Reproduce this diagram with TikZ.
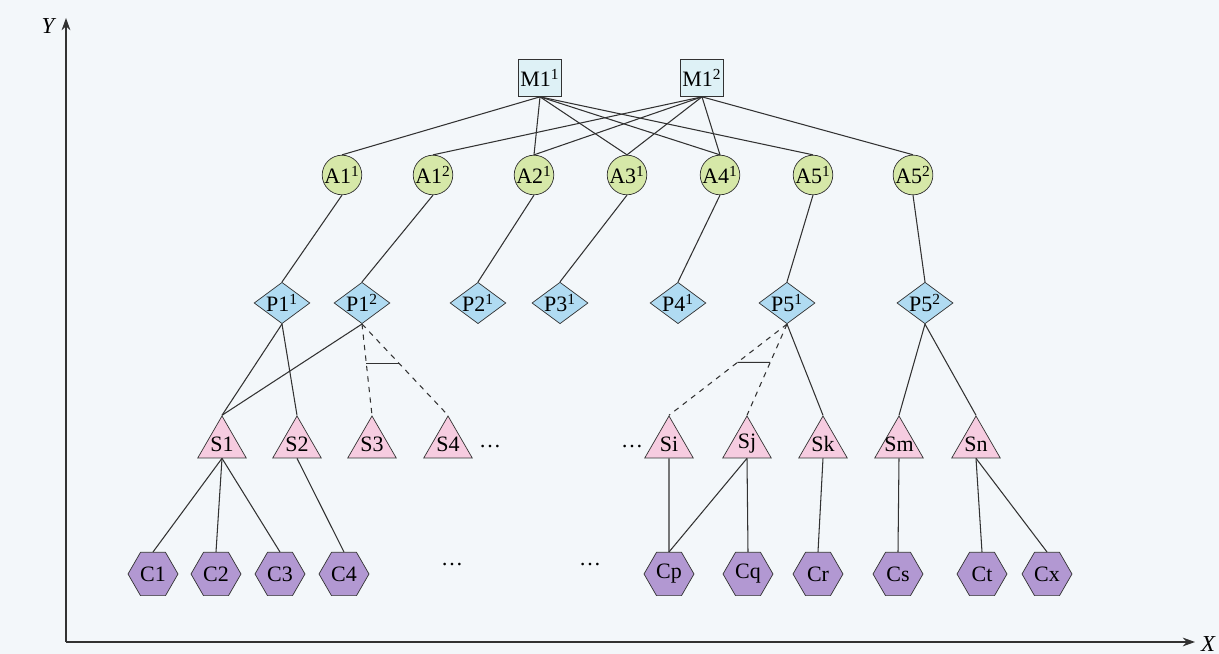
\documentclass[tikz,border=0pt]{standalone}
\usepackage{fontspec}
\setmainfont{Liberation Serif}
\usetikzlibrary{shapes.geometric, arrows.meta, positioning, calc}

\definecolor{bgpale}{RGB}{243,247,250}
\definecolor{mfill}{RGB}{222,241,246}
\definecolor{afill}{RGB}{214,232,168}
\definecolor{pfill}{RGB}{176,219,242}
\definecolor{sfill}{RGB}{246,204,224}
\definecolor{cfill}{RGB}{178,152,210}
\definecolor{edgegray}{RGB}{50,50,50}

\tikzset{
    mnode/.style={
        rectangle,
        draw=edgegray,
        fill=mfill,
        minimum width=0.74cm,
        minimum height=0.74cm,
        inner sep=1pt,
        font=\fontsize{12.5}{14}\selectfont
    },
    anode/.style={
        circle,
        draw=edgegray,
        fill=afill,
        minimum size=0.78cm,
        inner sep=0pt,
        font=\fontsize{12.5}{14}\selectfont
    },
    pnode/.style={
        diamond,
        draw=edgegray,
        fill=pfill,
        aspect=1.35,
        minimum width=0.98cm,
        minimum height=0.74cm,
        inner sep=0pt,
        font=\fontsize{12.5}{14}\selectfont
    },
    % text box of zero width, so every triangle keeps the same size
    snode/.style={
        regular polygon,
        regular polygon sides=3,
        draw=edgegray,
        fill=sfill,
        minimum size=1.12cm,
        inner sep=0pt,
        font=\fontsize{12.5}{14}\selectfont,
        execute at begin node={\hbox to 0pt\bgroup\hss},
        execute at end node={\hss\egroup}
    },
    cnode/.style={
        regular polygon,
        regular polygon sides=6,
        draw=edgegray,
        fill=cfill,
        minimum size=1.0cm,
        inner sep=0pt,
        font=\fontsize{12.5}{14}\selectfont
    },
    link/.style={
        draw=edgegray,
        line width=0.6pt
    },
    optlink/.style={
        draw=edgegray,
        line width=0.6pt,
        dashed
    },
    axis/.style={
        draw=edgegray,
        line width=0.7pt,
        -{Stealth[length=7pt,width=5pt]}
    },
    dots/.style={
        font=\fontsize{12.5}{14}\selectfont
    }
}

\begin{document}
\begin{tikzpicture}

    % Background
    \fill[bgpale] (0,0) rectangle (24.38,13.08);
    \useasboundingbox (0,0) rectangle (24.38,13.08);

    % Axes
    \coordinate (origin) at (1.32,0.24);
    \coordinate (ytop) at (1.32,12.72);
    \coordinate (xend) at (23.90,0.24);
    \draw[axis] (origin) -- (ytop);
    \draw[axis] (origin) -- (xend);
    \node[font=\fontsize{13}{15}\selectfont\itshape] (ylabel) at (0.96,12.56) {Y};
    \node[font=\fontsize{13}{15}\selectfont\itshape] (xlabel) at (24.16,0.20) {X};

    % Top level
    \node[mnode] (m11) at (10.80,11.52) {M1\textsuperscript{1}};
    \node[mnode] (m12) at (14.04,11.52) {M1\textsuperscript{2}};

    % A level
    \node[anode] (a11) at (6.84,9.58) {A1\textsuperscript{1}};
    \node[anode] (a12) at (8.66,9.58) {A1\textsuperscript{2}};
    \node[anode] (a21) at (10.68,9.58) {A2\textsuperscript{1}};
    \node[anode] (a31) at (12.54,9.58) {A3\textsuperscript{1}};
    \node[anode] (a41) at (14.40,9.58) {A4\textsuperscript{1}};
    \node[anode] (a51) at (16.26,9.58) {A5\textsuperscript{1}};
    \node[anode] (a52) at (18.26,9.58) {A5\textsuperscript{2}};

    % P level
    \node[pnode] (p11) at (5.64,7.02) {P1\textsuperscript{1}};
    \node[pnode] (p12) at (7.24,7.02) {P1\textsuperscript{2}};
    \node[pnode] (p21) at (9.56,7.02) {P2\textsuperscript{1}};
    \node[pnode] (p31) at (11.20,7.02) {P3\textsuperscript{1}};
    \node[pnode] (p41) at (13.56,7.02) {P4\textsuperscript{1}};
    \node[pnode] (p51) at (15.74,7.02) {P5\textsuperscript{1}};
    \node[pnode] (p52) at (18.50,7.02) {P5\textsuperscript{2}};

    % S level
    \node[snode] (s1) at (4.44,4.20) {S1};
    \node[snode] (s2) at (5.94,4.20) {S2};
    \node[snode] (s3) at (7.44,4.20) {S3};
    \node[snode] (s4) at (8.96,4.20) {S4};
    \node[dots] (sdots1) at (9.80,4.14) {\dots};
    \node[dots] (sdots2) at (12.64,4.14) {\dots};
    \node[snode] (si) at (13.38,4.20) {Si};
    \node[snode] (sj) at (14.94,4.20) {Sj};
    \node[snode] (sk) at (16.46,4.20) {Sk};
    \node[snode] (sm) at (17.98,4.20) {Sm};
    \node[snode] (sn) at (19.52,4.20) {Sn};

    % C level
    \node[cnode] (c1) at (3.06,1.60) {C1};
    \node[cnode] (c2) at (4.32,1.60) {C2};
    \node[cnode] (c3) at (5.60,1.60) {C3};
    \node[cnode] (c4) at (6.88,1.60) {C4};
    \node[dots] (cdots1) at (9.04,1.78) {\dots};
    \node[dots] (cdots2) at (11.80,1.78) {\dots};
    \node[cnode] (cp) at (13.38,1.60) {Cp};
    \node[cnode] (cq) at (14.96,1.60) {Cq};
    \node[cnode] (cr) at (16.36,1.60) {Cr};
    \node[cnode] (cs) at (17.96,1.60) {Cs};
    \node[cnode] (ct) at (19.64,1.60) {Ct};
    \node[cnode] (cx) at (20.94,1.60) {Cx};

    % M to A
    \foreach \a in {a11,a21,a31,a41,a51}
        \draw[link] (m11.south) -- (\a.north);
    \foreach \a in {a12,a21,a31,a41,a52}
        \draw[link] (m12.south) -- (\a.north);

    % A to P
    \draw[link] (a11.south) -- (p11.north);
    \draw[link] (a12.south) -- (p12.north);
    \draw[link] (a21.south) -- (p21.north);
    \draw[link] (a31.south) -- (p31.north);
    \draw[link] (a41.south) -- (p41.north);
    \draw[link] (a51.south) -- (p51.north);
    \draw[link] (a52.south) -- (p52.north);

    % P to S
    \draw[link] (p11.south) -- (s1.north);
    \draw[link] (p11.south) -- (s2.north);
    \draw[link] (p12.south) -- (s1.north);
    \draw[optlink] (p12.south) -- (s3.north);
    \draw[optlink] (p12.south) -- (s4.north);
    \draw[link] ($(p12.south)!0.43!(s3.north)$) -- ($(p12.south)!0.43!(s4.north)$);
    \draw[optlink] (p51.south) -- (si.north);
    \draw[optlink] (p51.south) -- (sj.north);
    \draw[link] ($(p51.south)!0.42!(si.north)$) -- ($(p51.south)!0.42!(sj.north)$);
    \draw[link] (p51.south) -- (sk.north);
    \draw[link] (p52.south) -- (sm.north);
    \draw[link] (p52.south) -- (sn.north);

    % S to C
    \foreach \c in {c1,c2,c3}
        \draw[link] (s1.south) -- (\c.north);
    \draw[link] (s2.south) -- (c4.north);
    \draw[link] (si.south) -- (cp.north);
    \draw[link] (sj.south) -- (cp.north);
    \draw[link] (sj.south) -- (cq.north);
    \draw[link] (sk.south) -- (cr.north);
    \draw[link] (sm.south) -- (cs.north);
    \draw[link] (sn.south) -- (ct.north);
    \draw[link] (sn.south) -- (cx.north);

\end{tikzpicture}
\end{document}
